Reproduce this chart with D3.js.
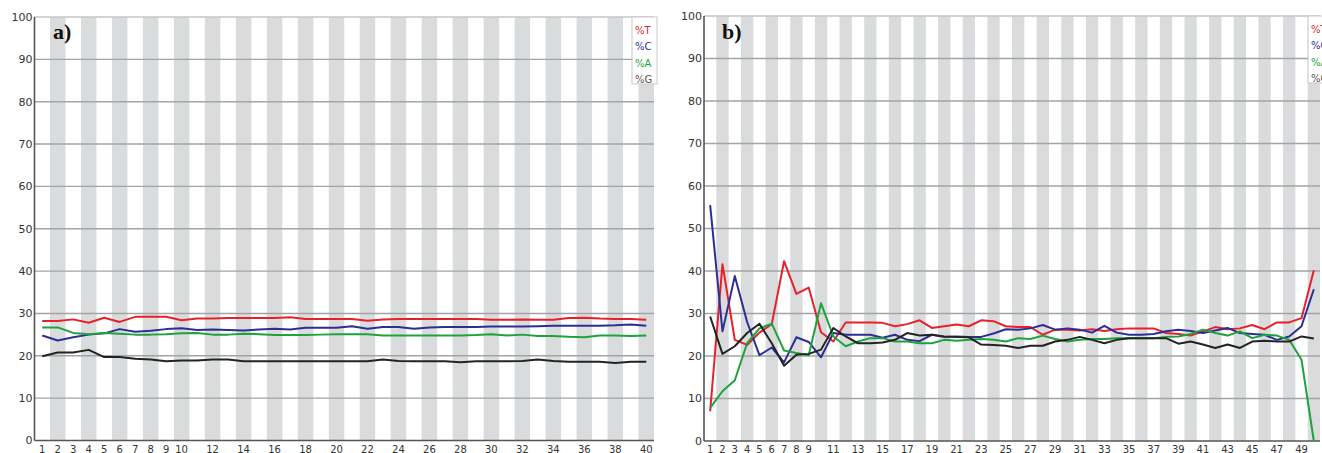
<!DOCTYPE html>
<html>
<head>
<meta charset="utf-8">
<script src="https://cdn.jsdelivr.net/npm/d3@7"></script>
<style>
  body { margin: 0; background: #fff; }
  svg { display: block; }
  .tick-y { font-family: "DejaVu Sans", sans-serif; font-size: 11px; fill: #333; }
  .tick-x { font-family: "DejaVu Sans", sans-serif; font-size: 10px; fill: #333; }
  .legend text { font-family: "DejaVu Sans", sans-serif; font-size: 10px; }
  .panel-tag { font-family: "Liberation Serif", serif; font-weight: bold; font-size: 22px; fill: #111; }
</style>
</head>
<body>
<svg id="chart" width="1322" height="453"></svg>
<script>
// panel a) positions 1..40
var aPos = d3.range(1, 41);
var aT = [28.2, 28.2, 28.6, 27.8, 29.0, 28.0, 29.2, 29.2, 29.2, 28.4, 28.8, 28.8, 28.9, 28.9, 28.9, 28.9, 29.1, 28.7, 28.7, 28.7,
          28.7, 28.3, 28.6, 28.7, 28.7, 28.7, 28.7, 28.7, 28.7, 28.5, 28.5, 28.6, 28.5, 28.5, 28.9, 29.0, 28.8, 28.7, 28.7, 28.5];
var aC = [24.8, 23.6, 24.4, 25.0, 25.3, 26.3, 25.7, 25.9, 26.3, 26.5, 26.1, 26.2, 26.1, 26.0, 26.2, 26.4, 26.2, 26.6, 26.6, 26.6,
          27.0, 26.4, 26.8, 26.8, 26.4, 26.7, 26.8, 26.8, 26.8, 26.9, 26.9, 26.9, 27.0, 27.1, 27.1, 27.1, 27.1, 27.2, 27.4, 27.1];
var aA = [26.7, 26.7, 25.4, 25.1, 25.4, 25.2, 25.0, 25.0, 25.1, 25.3, 25.4, 25.0, 25.0, 25.2, 25.1, 24.9, 24.9, 24.9, 25.0, 25.1,
          25.1, 25.1, 24.8, 24.8, 24.8, 24.8, 24.8, 24.8, 24.9, 25.1, 24.8, 25.0, 24.7, 24.7, 24.5, 24.4, 24.8, 24.8, 24.7, 24.8];
var aG = [19.9, 20.8, 20.8, 21.4, 19.7, 19.7, 19.3, 19.1, 18.7, 18.9, 18.9, 19.1, 19.1, 18.7, 18.7, 18.7, 18.7, 18.7, 18.7, 18.7,
          18.7, 18.7, 19.1, 18.8, 18.7, 18.7, 18.7, 18.5, 18.7, 18.7, 18.7, 18.8, 19.1, 18.8, 18.6, 18.6, 18.6, 18.3, 18.6, 18.6];
var aTicks = [1, 2, 3, 4, 5, 6, 7, 8, 9, 10, 12, 14, 16, 18, 20, 22, 24, 26, 28, 30, 32, 34, 36, 38, 40];

// panel b) positions 1..50
var bPos = d3.range(1, 51);
var bT = [7.0, 41.6, 23.8, 22.6, 25.5, 27.5, 42.3, 34.6, 36.1, 25.6, 23.4, 27.9, 27.9, 27.9, 27.8, 27.0, 27.5, 28.4, 26.6, 27.0,
          27.4, 27.0, 28.4, 28.2, 27.0, 26.8, 26.8, 25.0, 26.2, 26.2, 26.0, 26.3, 25.9, 26.3, 26.5, 26.5, 26.5, 25.4, 25.2, 24.8,
          25.8, 26.8, 26.3, 26.5, 27.3, 26.3, 27.9, 27.9, 28.9, 40.2];
var bC = [55.5, 25.8, 38.8, 28.0, 20.2, 22.0, 18.5, 24.4, 23.3, 19.7, 25.4, 25.0, 25.0, 25.0, 24.3, 25.0, 23.8, 23.5, 25.0, 24.5,
          24.6, 24.5, 24.5, 25.3, 26.3, 26.2, 26.5, 27.3, 26.2, 26.5, 26.2, 25.5, 27.1, 25.5, 25.0, 25.0, 25.2, 25.8, 26.2, 25.9,
          25.4, 26.0, 26.6, 25.4, 25.2, 25.0, 23.8, 24.6, 27.0, 35.7];
var bA = [7.8, 11.7, 14.3, 23.0, 26.5, 27.6, 21.3, 20.7, 20.2, 32.4, 24.6, 22.3, 23.4, 24.2, 24.2, 23.4, 23.4, 23.0, 23.0, 23.8,
          23.6, 23.8, 24.0, 23.8, 23.4, 24.2, 24.0, 24.8, 24.0, 23.4, 23.8, 24.0, 24.0, 24.2, 24.2, 24.2, 24.2, 24.5, 24.6, 25.2,
          26.2, 25.4, 24.8, 25.8, 24.2, 25.0, 24.8, 23.8, 19.1, 0.0];
var bG = [29.3, 20.5, 22.3, 25.4, 27.6, 23.0, 17.7, 20.3, 20.5, 21.5, 26.6, 24.6, 23.0, 23.0, 23.2, 23.8, 25.4, 24.8, 25.0, 24.6,
          24.5, 24.4, 22.7, 22.6, 22.4, 21.9, 22.4, 22.4, 23.4, 23.8, 24.5, 23.8, 23.0, 23.8, 24.2, 24.2, 24.2, 24.2, 22.9, 23.4,
          22.7, 21.9, 22.7, 21.9, 23.4, 23.6, 23.4, 23.4, 24.6, 24.1];
var bTicks = [1, 2, 3, 4, 5, 6, 7, 8, 9, 11, 13, 15, 17, 19, 21, 23, 25, 27, 29, 31, 33, 35, 37, 39, 41, 43, 45, 47, 49];

var yTicks = [0, 10, 20, 30, 40, 50, 60, 70, 80, 90, 100];
var bases = ["%T", "%C", "%A", "%G"];
var baseColors = ["#e8202b", "#2c2e96", "#1ea33c", "#232323"];
var legendColors = ["#e8202b", "#2c2e96", "#1ea33c", "#555"];

var svg = d3.select("#chart");

function drawPanel(opt) {
    var g = svg.append("g");
    var x = d3.scaleBand().domain(opt.pos).range([opt.left, opt.right]);
    var y = d3.scaleLinear().domain([0, 100]).range([opt.bottom, opt.top]);

    // alternating stripes
    g.append("g").selectAll("rect")
        .data(opt.pos.filter(function(d) { return d % 2 == 0; }))
        .enter().append("rect")
        .attr("x", function(d) { return x(d); })
        .attr("y", opt.top)
        .attr("width", x.bandwidth())
        .attr("height", opt.bottom - opt.top)
        .attr("fill", "#d9dbdc");

    // horizontal grid
    g.append("g").selectAll("line")
        .data(yTicks.slice(1))
        .enter().append("line")
        .attr("x1", opt.left)
        .attr("x2", opt.right)
        .attr("y1", function(d) { return y(d); })
        .attr("y2", function(d) { return y(d); })
        .attr("stroke", function(d) { return d == 100 ? "#c4c6c6" : "#a2a5a5"; })
        .attr("stroke-width", 1.4);

    // axes lines
    g.append("line")
        .attr("x1", opt.left).attr("x2", opt.left)
        .attr("y1", opt.top).attr("y2", opt.bottom)
        .attr("stroke", "#555").attr("stroke-width", 1.6);
    g.append("line")
        .attr("x1", opt.left).attr("x2", opt.right)
        .attr("y1", opt.bottom).attr("y2", opt.bottom)
        .attr("stroke", "#555").attr("stroke-width", 1.6);

    // y tick labels
    g.append("g").selectAll("text")
        .data(yTicks)
        .enter().append("text")
        .attr("class", "tick-y")
        .attr("x", opt.left - 2)
        .attr("y", function(d) { return y(d); })
        .attr("dy", "0.35em")
        .attr("text-anchor", "end")
        .text(function(d) { return d; });

    // x tick labels
    g.append("g").selectAll("text")
        .data(opt.ticks)
        .enter().append("text")
        .attr("class", "tick-x")
        .attr("x", function(d) { return x(d) + x.bandwidth() / 2; })
        .attr("y", 452.5)
        .attr("text-anchor", "middle")
        .text(function(d) { return d; });

    // lines
    var line = d3.line()
        .x(function(d, i) { return x(opt.pos[i]) + x.bandwidth() / 2; })
        .y(function(d) { return y(d); });
    g.append("g").selectAll("path")
        .data(opt.series)
        .enter().append("path")
        .attr("d", line)
        .attr("fill", "none")
        .attr("stroke", function(d, i) { return baseColors[i]; })
        .attr("stroke-width", 2)
        .attr("stroke-linejoin", "round");

    // legend
    var lg = g.append("g").attr("class", "legend");
    lg.append("rect")
        .attr("x", opt.legendX)
        .attr("y", opt.top)
        .attr("width", 25)
        .attr("height", 67)
        .attr("fill", "#fff")
        .attr("stroke", "#c8c8c8")
        .attr("stroke-width", 1);
    lg.selectAll("text")
        .data(bases)
        .enter().append("text")
        .attr("x", opt.legendX + 3)
        .attr("y", function(d, i) { return opt.top + 13 + i * 16.5; })
        .attr("dy", "0.35em")
        .attr("fill", function(d, i) { return legendColors[i]; })
        .text(function(d) { return d; });

    svg.append("text")
        .attr("class", "panel-tag")
        .attr("x", opt.tagX)
        .attr("y", 39)
        .text(opt.tag);
}

drawPanel({
    pos: aPos, series: [aT, aC, aA, aG], ticks: aTicks,
    left: 34.5, right: 654, top: 17, bottom: 440.5,
    legendX: 632, tag: "a)", tagX: 53
});

drawPanel({
    pos: bPos, series: [bT, bC, bA, bG], ticks: bTicks,
    left: 704, right: 1320, top: 16, bottom: 441,
    legendX: 1308, tag: "b)", tagX: 722
});
</script>
</body>
</html>
